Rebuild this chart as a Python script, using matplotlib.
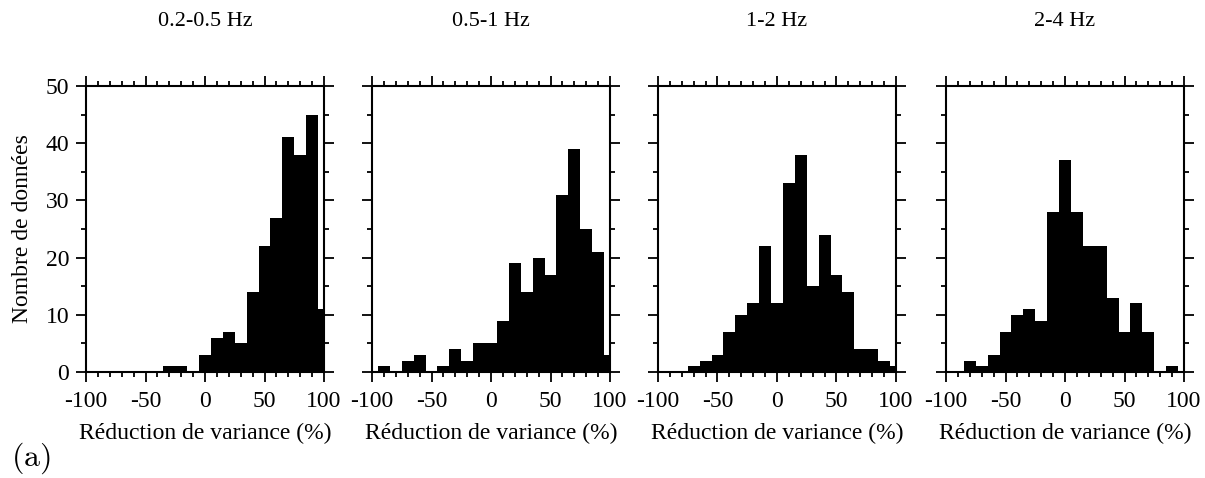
import matplotlib
matplotlib.use('Agg')
import matplotlib.pyplot as plt
from matplotlib.ticker import MultipleLocator
import numpy as np

# ─── Data ───
bin_centers = np.arange(-100, 101, 10)
titles = ['0.2-0.5 Hz', '0.5-1 Hz', '1-2 Hz', '2-4 Hz']
counts_02_05 = [0, 0, 0, 0, 0, 0, 0, 1, 1, 0, 3, 6, 7, 5, 14, 22, 27, 41, 38, 45, 11]
counts_05_1 = [0, 1, 0, 2, 3, 0, 1, 4, 2, 5, 5, 9, 19, 14, 20, 17, 31, 39, 25, 21, 3]
counts_1_2 = [0, 0, 0, 1, 2, 3, 7, 10, 12, 22, 12, 33, 38, 15, 24, 17, 14, 4, 4, 2, 1]
counts_2_4 = [0, 0, 2, 1, 3, 7, 10, 11, 9, 28, 37, 28, 22, 22, 13, 7, 12, 7, 0, 1, 0]
all_counts = [counts_02_05, counts_05_1, counts_1_2, counts_2_4]

plt.rcParams['font.family'] = ['Liberation Serif', 'DejaVu Serif']
plt.rcParams['axes.unicode_minus'] = False

fig = plt.figure(figsize=(12.05, 4.78), dpi=100)
lefts = [86, 372, 658, 946]
W, H = 1205, 478

for i, (left, counts, title) in enumerate(zip(lefts, all_counts, titles)):
    ax = fig.add_axes([left / W, (478 - 372) / H, 238 / W, 286 / H])
    ax.bar(bin_centers, counts, width=10, color='black', edgecolor='none')
    ax.set_xlim(-100, 100)
    ax.set_ylim(0, 50)
    ax.xaxis.set_major_locator(MultipleLocator(50))
    ax.xaxis.set_minor_locator(MultipleLocator(10))
    ax.yaxis.set_major_locator(MultipleLocator(10))
    ax.yaxis.set_minor_locator(MultipleLocator(5))
    ax.tick_params(which='both', direction='out', top=True, right=True,
                   width=1.3, labelsize=17)
    ax.tick_params(which='major', length=7, pad=5)
    ax.tick_params(axis='x', which='major', pad=7)
    ax.tick_params(which='minor', length=3.5)
    ax.tick_params(axis='y', labelleft=(i == 0))
    for s in ax.spines.values():
        s.set_linewidth(1.5)
    ax.set_xlabel('Réduction de variance (%)', fontsize=17, labelpad=7.5)
    if i == 0:
        ax.set_ylabel('Nombre de données', fontsize=17, labelpad=9)
    fig.text((left + 119) / W, 1 - 22 / H, title, ha='center', va='center', fontsize=16)

fig.text(11 / W, 1 - 458 / H, r'$\mathrm{(a)}$', ha='left', va='center',
         fontsize=23, math_fontfamily='cm')

plt.savefig('out.png', dpi=100)
